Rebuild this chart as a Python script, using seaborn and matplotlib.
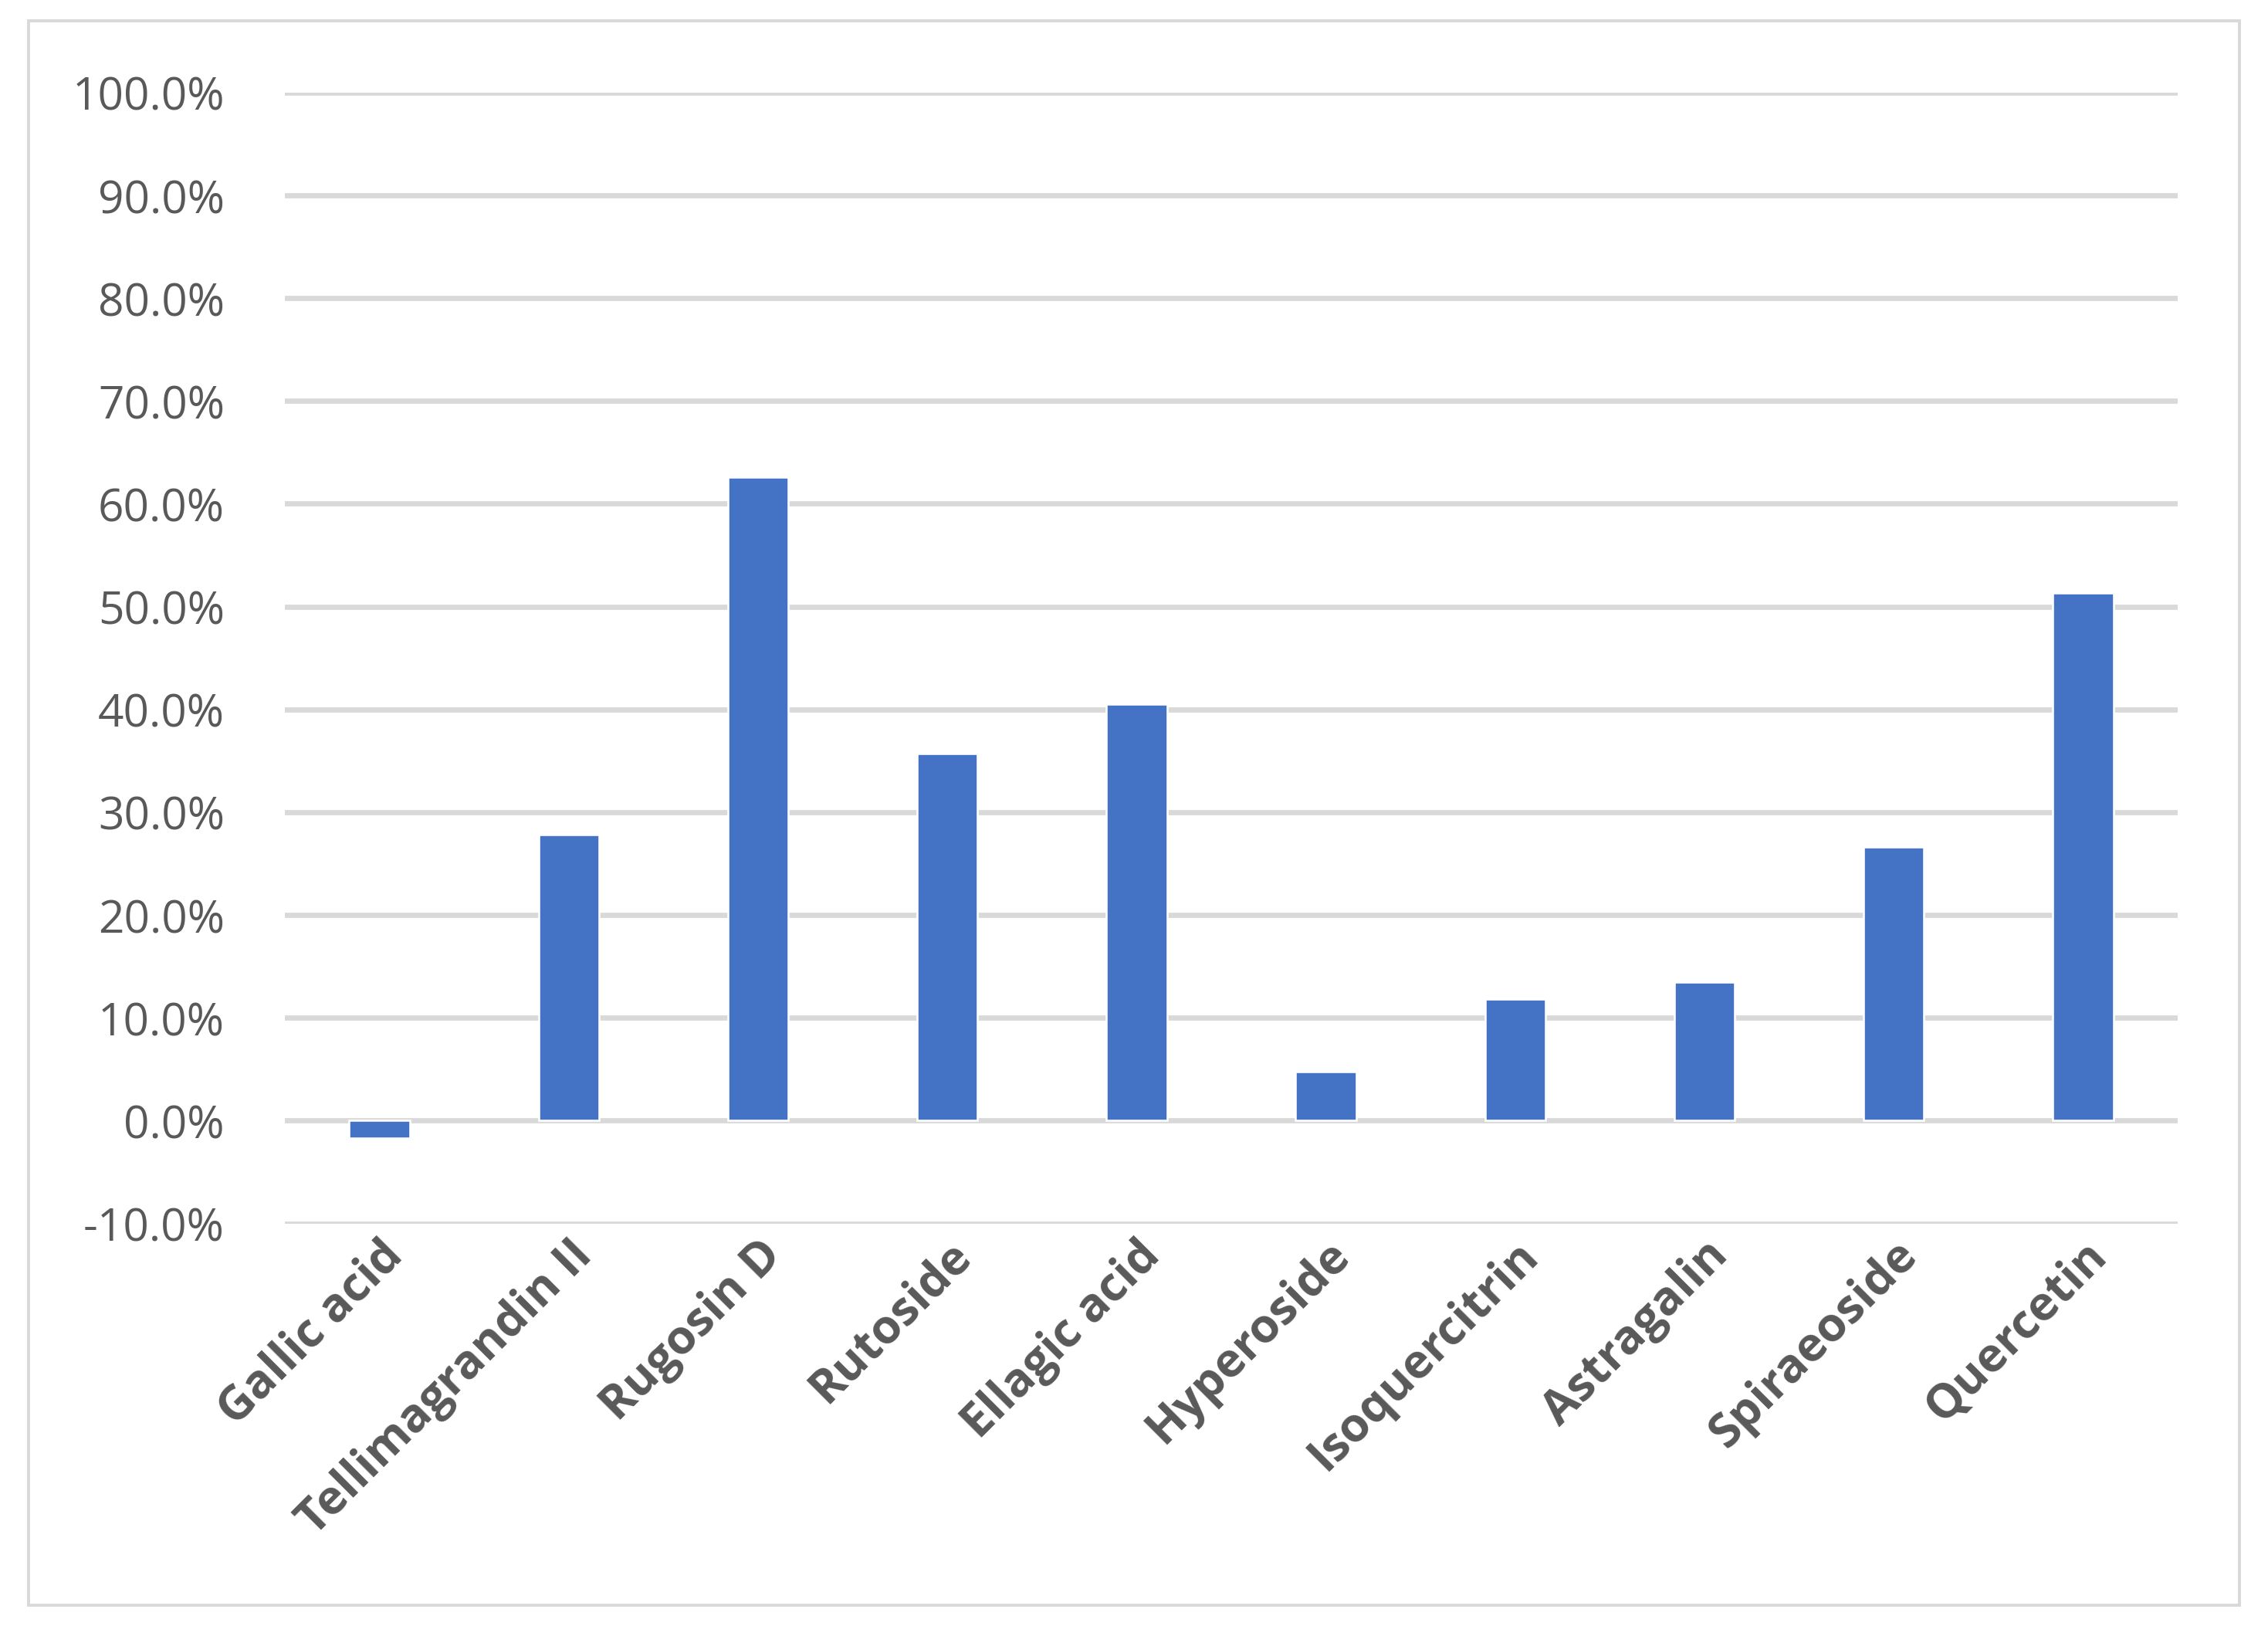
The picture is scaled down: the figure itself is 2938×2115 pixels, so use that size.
import matplotlib
matplotlib.use("Agg")
import matplotlib.pyplot as plt
import seaborn as sns
import pandas as pd
from matplotlib.ticker import PercentFormatter
from matplotlib.patches import Rectangle

compounds = ["Gallic acid", "Tellimagrandin II", "Rugosin D", "Rutoside", "Ellagic acid",
             "Hyperoside", "Isoquercitrin", "Astragalin", "Spiraeoside", "Quercetin"]
values = [-0.017, 0.278, 0.626, 0.357, 0.405, 0.048, 0.118, 0.135, 0.266, 0.513]
yticks = [i / 10 for i in range(-1, 11)]

sns.set_theme(style="white")
plt.rcParams['font.family'] = ['Open Sans', 'DejaVu Sans']
plt.rcParams['axes.unicode_minus'] = False
df = pd.DataFrame({"compound": compounds, "value": values})

fig = plt.figure(figsize=(15.68, 11.29), dpi=187.4)
ax = fig.add_axes([0.1256, 0.2507, 0.96 - 0.1256, 0.943 - 0.2507])
sns.barplot(data=df, x="compound", y="value", color="#4472C4", saturation=1,
            width=0.32, ax=ax, zorder=3)
ax.set_ylim(-0.1, 1.0)
ax.set_xlim(-0.5, 9.5)
ax.set_yticks(yticks)
ax.yaxis.set_major_formatter(PercentFormatter(1.0, decimals=1))
ax.grid(axis="y", color="#d9d9d9", linewidth=2.6, zorder=0)
ax.set_axisbelow(True)
for s in ax.spines.values():
    s.set_visible(False)
ax.set_xlabel("")
ax.set_ylabel("")
ax.tick_params(axis="y", labelsize=22.5, labelcolor="#595959", length=0, pad=30)
ax.tick_params(axis="x", labelsize=23.5, labelcolor="#595959", length=0, pad=4)
for lbl in ax.get_xticklabels():
    lbl.set_rotation(45)
    lbl.set_ha("right")
    lbl.set_rotation_mode("anchor")
    lbl.set_fontweight("bold")
fig.patches.append(Rectangle((20 / 1568, 1 - 1110 / 1129), 1528 / 1568, 1095 / 1129,
                             transform=fig.transFigure, fill=False,
                             edgecolor="#d9d9d9", linewidth=1.5))
fig.savefig("out.png", dpi=187.4)
